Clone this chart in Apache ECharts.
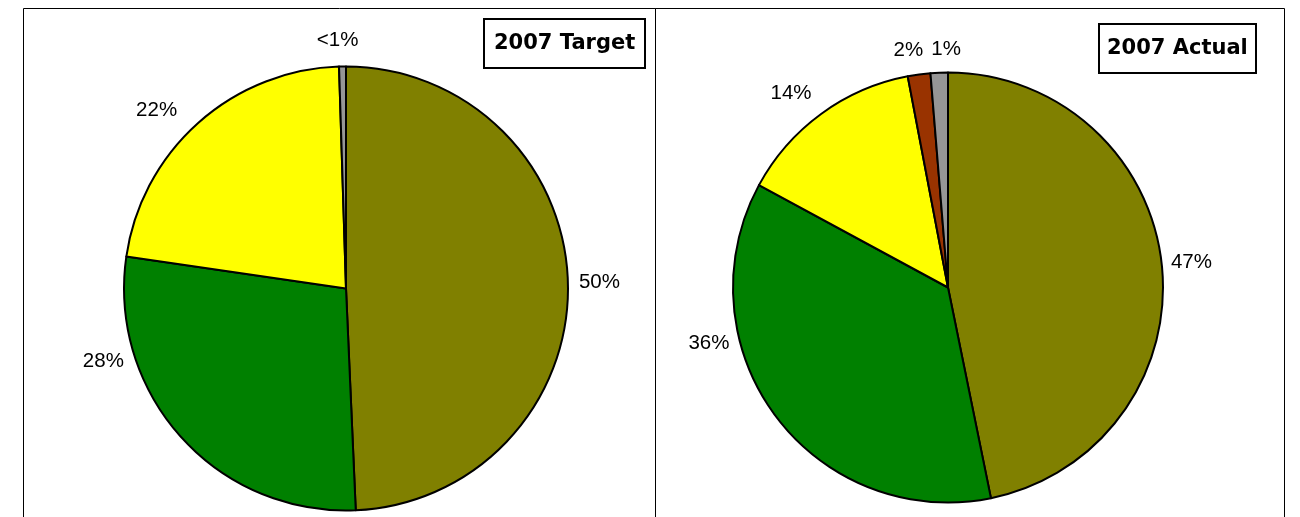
<!DOCTYPE html>
<html><head><meta charset="utf-8">
<script src="https://cdn.jsdelivr.net/npm/echarts@6/dist/echarts.min.js"></script>
<style>html,body{margin:0;padding:0;background:#fff}#c{width:1300px;height:517px}</style>
</head><body><div id="c"></div>
<script>
// ---- data ----
const categories = ['Category A', 'Category B', 'Category C', 'Category D', 'Category E'];
const targetValues = [49.3, 28.0, 22.2, 0, 0.5];
const actualValues = [46.8, 36.1, 14.1, 1.7, 1.3];
const targetLabels = ['50%', '28%', '22%', '', '<1%'];
const actualLabels = ['47%', '36%', '14%', '2%', '1%'];
const chartTitles = ['2007 Target', '2007 Actual'];

// ---- styles ----
const sliceColors = ['#808000', '#008000', '#FFFF00', '#993300', '#969696'];
const labelNudge = [
  [[0, -1], [-48, -80], [-12, -8], [0, 0], [21, -20]],
  [[-2, -3], [-36, -76], [-1, -16], [10, -18], [27, -17]]
];

function buildData(values, labels) {
  const out = [];
  values.forEach((v, i) => {
    if (v > 0) out.push({ name: categories[i], value: v, idx: i, labelText: labels[i],
      itemStyle: { color: sliceColors[i] } });
  });
  return out;
}

const targetData = buildData(targetValues, targetLabels);
const actualData = buildData(actualValues, actualLabels);
const dataSets = [targetData, actualData];

function pieSeries(si, data, center, radius) {
  return {
    type: 'pie', center: center, radius: radius, startAngle: 90, clockwise: true,
    avoidLabelOverlap: false, silent: true, animation: false,
    itemStyle: { borderColor: '#000', borderWidth: 2 },
    label: { show: true, position: 'outside', color: '#000', fontSize: 20.5,
      fontFamily: '"Liberation Sans", Arial, sans-serif', distanceToLabelLine: 5,
      formatter: p => p.data.labelText },
    labelLine: { show: false, length: 6, length2: 0 },
    labelLayout: function (params) {
      const d = dataSets[si][params.dataIndex];
      const n = labelNudge[si][d.idx];
      return { dx: n[0], dy: n[1], hideOverlap: false };
    },
    emphasis: { disabled: true },
    data: data
  };
}

const chart = echarts.init(document.getElementById('c'), null, { renderer: 'canvas' });
const titleStyle = { fontSize: 21, fontWeight: 'bold', color: '#000',
  fontFamily: '"DejaVu Sans", sans-serif', lineHeight: 21 };
chart.setOption({
  backgroundColor: '#fff',
  title: [
    { text: chartTitles[0], left: 484, top: 19, padding: [14, 10], borderColor: '#000', borderWidth: 2, textStyle: titleStyle },
    { text: chartTitles[1], left: 1099, top: 24, padding: [14, 8], borderColor: '#000', borderWidth: 2, textStyle: titleStyle }
  ],
  graphic: [
    { type: 'rect', z: -1, shape: { x: 23.5, y: 8.5, width: 632, height: 600 }, style: { fill: 'none', stroke: '#000', lineWidth: 1 } },
    { type: 'rect', z: -1, shape: { x: 655.5, y: 8.5, width: 629, height: 600 }, style: { fill: 'none', stroke: '#000', lineWidth: 1 } }
  ],
  series: [
    pieSeries(0, targetData, [346, 288.5], 222),
    pieSeries(1, actualData, [948, 287.5], 215)
  ]
});
</script></body></html>
